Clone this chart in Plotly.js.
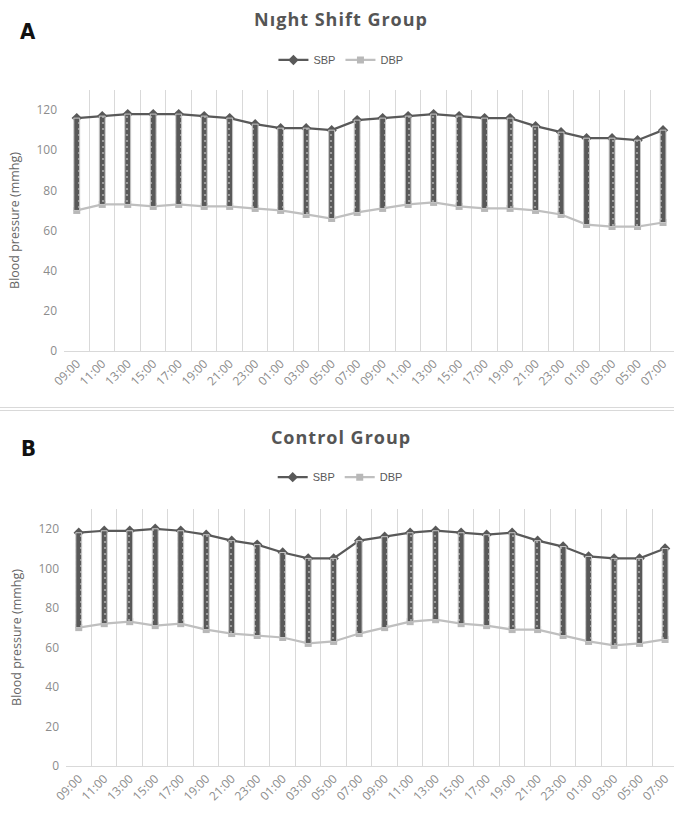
<!DOCTYPE html>
<html>
<head>
<meta charset="utf-8">
<script src="https://cdn.plot.ly/plotly-3.0.1.min.js"></script>
<style>
  html, body { margin: 0; padding: 0; background: #fff; width: 674px; height: 817px; overflow: hidden; }
  #panelA { position: absolute; left: 0; top: 0; width: 674px; height: 408px; }
  #panelB { position: absolute; left: 0; top: 412px; width: 674px; height: 405px; }
  .sep { position: absolute; left: 0; width: 674px; height: 0; border-top: 1px solid #d9d9d9; }
  .gtitle { letter-spacing: 1px; }
</style>
</head>
<body>
<div id="panelA"></div>
<div class="sep" style="top:407px"></div>
<div class="sep" style="top:410px"></div>
<div id="panelB"></div>
<script>
// ---- Data ----
const timeLabels = ["09:00","11:00","13:00","15:00","17:00","19:00","21:00","23:00","01:00","03:00","05:00","07:00",
                    "09:00","11:00","13:00","15:00","17:00","19:00","21:00","23:00","01:00","03:00","05:00","07:00"];
const nightSBP   = [116,117,118,118,118,117,116,113,111,111,110,115,116,117,118,117,116,116,112,109,106,106,105,110];
const nightDBP   = [70,73,73,72,73,72,72,71,70,68,66,69,71,73,74,72,71,71,70,68,63,62,62,64];
const controlSBP = [118,119,119,120,119,117,114,112,108,105,105,114,116,118,119,118,117,118,114,111,106,105,105,110];
const controlDBP = [70,72,73,71,72,69,67,66,65,62,63,67,70,73,74,72,71,69,69,66,63,61,62,64];

// unique category keys (times repeat over two days)
const categories = timeLabels.map((t, i) => "c" + i + " " + t);

function makePanel(divId, titleText, panelLabel, sbp, dbp, g) {
  const traces = [
    { type: "scatter", mode: "lines+markers", name: "SBP", x: categories, y: sbp,
      line: { color: "#595959", width: 2.25 },
      marker: { symbol: "diamond", size: 8, color: "#595959" },
      xaxis: "x", yaxis: "y" },
    { type: "scatter", mode: "lines+markers", name: "DBP", x: categories, y: dbp,
      line: { color: "#bfbfbf", width: 2.25 },
      marker: { symbol: "square", size: 7, color: "#b8b8b8" },
      xaxis: "x", yaxis: "y" },
    { type: "bar", name: "range", x: categories, base: dbp, y: sbp.map((v, i) => v - dbp[i]),
      width: 0.23, showlegend: false, hoverinfo: "skip",
      marker: { color: "#595959", line: { color: "#c8c8c8", width: 1 },
                pattern: { shape: ".", fillmode: "overlay", bgcolor: "#595959", fgcolor: "#ffffff", size: 6, solidity: 0.1 } },
      xaxis: "x2", yaxis: "y2" }
  ];
  const xr = [-0.5, g.xRight];
  const layout = {
    width: 674, height: g.h,
    margin: { l: g.l, r: 0, t: g.t, b: g.b },
    paper_bgcolor: "#ffffff", plot_bgcolor: "#ffffff",
    showlegend: true,
    title: { text: titleText, xref: "container", x: 0.506, xanchor: "center", yref: "container", y: g.titleY, yanchor: "middle",
             font: { family: "Open Sans", size: 18, color: "#555555", weight: "bold" } },
    legend: { orientation: "h", xref: "paper", x: g.legX, xanchor: "center", yref: "paper", y: g.legY, yanchor: "middle",
              font: { family: "Liberation Sans Narrow, Liberation Sans, sans-serif", size: 11, color: "#595959" },
              itemwidth: 30, tracegroupgap: 0 },
    xaxis: { type: "category", categoryorder: "array", categoryarray: categories,
             tickmode: "array", tickvals: categories, ticktext: timeLabels,
             tickson: "boundaries", ticks: "", tickangle: -45,
             tickfont: { family: "Open Sans", size: 12, color: "#8c8c8c" },
             showgrid: true, gridcolor: "#d9d9d9", gridwidth: 1,
             showline: true, linecolor: "#d9d9d9", linewidth: 1,
             range: xr, fixedrange: true },
    xaxis2: { type: "category", categoryorder: "array", categoryarray: categories, overlaying: "x",
              range: xr, visible: false, fixedrange: true },
    yaxis: { range: [0, 130], tick0: 0, dtick: 20, showgrid: false, zeroline: false, showline: false,
             ticks: "", ticklabelstandoff: 6,
             tickfont: { family: "Open Sans", size: 12, color: "#8c8c8c" },
             title: { text: "Blood pressure (mmhg)", standoff: 14,
                      font: { family: "Open Sans", size: 12.5, color: "#666666" } },
             fixedrange: true },
    yaxis2: { range: [0, 130], overlaying: "y", visible: false, fixedrange: true },
    annotations: [
      { text: "<b>" + panelLabel + "</b>", xref: "paper", yref: "paper", x: g.labX, y: g.labY,
        xanchor: "center", yanchor: "middle", showarrow: false,
        font: { family: "DejaVu Sans Condensed, DejaVu Sans", size: 22, color: "#111111" } }
    ]
  };
  Plotly.newPlot(divId, traces, layout, { staticPlot: true, displayModeBar: false });
}

makePanel("panelA", "Nıght Shift Group", "A", nightSBP, nightDBP,
  { h: 408, l: 64, t: 90, b: 57, xRight: 23.43, titleY: 0.951,
    legX: 0.454, legY: 1.115, labX: -0.059, labY: 1.226 });
makePanel("panelB", "Control Group", "B", controlSBP, controlDBP,
  { h: 405, l: 66, t: 97, b: 51, xRight: 23.35, titleY: 0.936,
    legX: 0.451, legY: 1.124, labX: -0.062, labY: 1.237 });
</script>
</body>
</html>
